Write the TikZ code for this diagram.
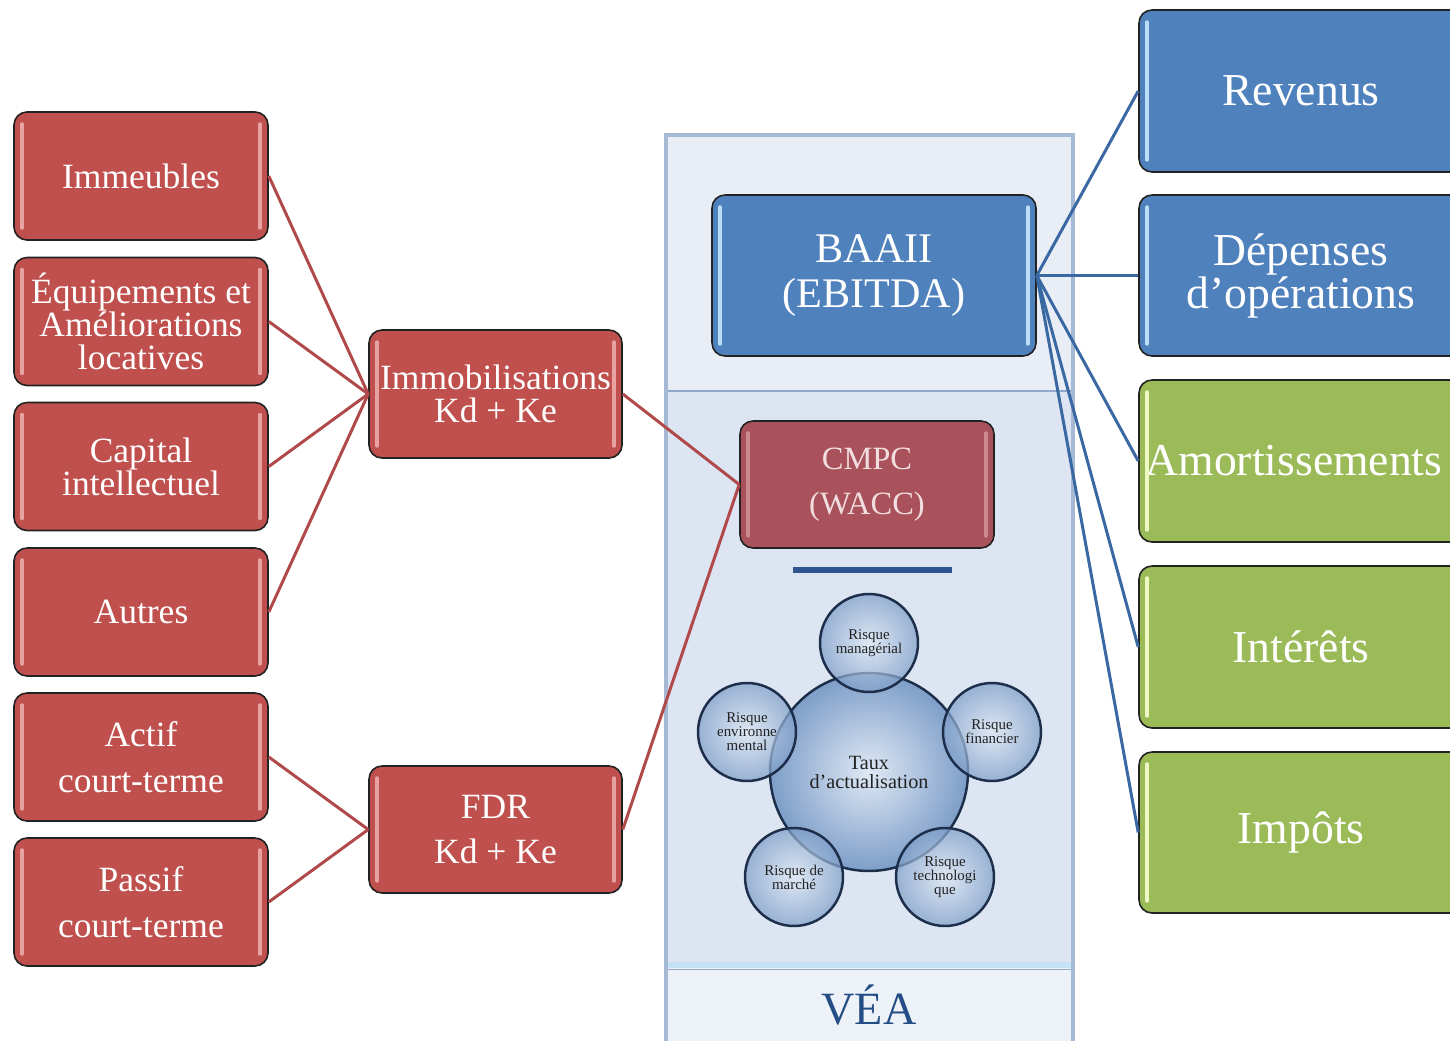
\documentclass[tikz,border=0pt]{standalone}
\usepackage{fontspec}
\setmainfont{Liberation Serif}
\definecolor{redfill}{HTML}{C0504D}
\definecolor{redbar}{HTML}{E6A3A1}
\definecolor{redline}{HTML}{B04A4A}
\definecolor{bluefill}{HTML}{4F81BD}
\definecolor{bluebar}{HTML}{BCDDF8}
\definecolor{blueline}{HTML}{3A68A2}
\definecolor{greenfill}{HTML}{9BBB59}
\definecolor{greenbar}{HTML}{EEF8C2}
\definecolor{cmpcfill}{HTML}{A9525B}
\definecolor{cmpcbar}{HTML}{CB8A90}
\definecolor{cmpctext}{HTML}{F2DEE0}
\definecolor{boxline}{HTML}{222222}
\definecolor{paneltop}{HTML}{E9EEF6}
\definecolor{panelmid}{HTML}{DCE5F1}
\definecolor{panelbot}{HTML}{EDF2F9}
\definecolor{panelline}{HTML}{8FA8CB}
\definecolor{panelborder}{HTML}{A6B9D4}
\definecolor{cyanbar}{HTML}{C3E2F6}
\definecolor{ulblue}{HTML}{2F5590}
\definecolor{veablue}{HTML}{244D86}
\definecolor{navy}{HTML}{1C2E4A}
\definecolor{bubin}{HTML}{DFE9F5}
\definecolor{bubout}{HTML}{7E9EC8}
\definecolor{darktext}{HTML}{222222}
\newcommand\fLeft{\fontsize{20.2}{18.8}\selectfont}
\newcommand\fLeftW{\fontsize{20.2}{26}\selectfont}
\newcommand\fRight{\fontsize{26}{24.5}\selectfont}
\newcommand\fBaa{\fontsize{24}{26}\selectfont}
\newcommand\fCm{\fontsize{18.5}{25.6}\selectfont}
\newcommand\mybox[9]{%
 \node[box,fill=#6,minimum width=#4*0.02cm,minimum height=#5*0.02cm,#8] (#1) at (#2,#3) {#9};
 \draw[hlbar,draw=#7] ([xshift=0.18cm,yshift=-0.26cm]#1.north west) -- ([xshift=0.18cm,yshift=0.26cm]#1.south west);
 \draw[hlbar,draw=#7] ([xshift=-0.18cm,yshift=-0.26cm]#1.north east) -- ([xshift=-0.18cm,yshift=0.26cm]#1.south east);}
\tikzset{
 box/.style={draw=boxline,line width=0.9pt,rounded corners=0.26cm,text=white,align=center,inner sep=0pt},
 hlbar/.style={line width=2.2pt,line cap=round},
 redln/.style={draw=redline,line width=1.7pt},
 blueln/.style={draw=blueline,line width=1.7pt},
 bubble/.style={circle,draw=navy,line width=1.4pt,inner color=bubin,outer color=bubout,inner sep=0pt,align=center},
 risk/.style={bubble,minimum size=1.96cm,text=darktext,font=\fontsize{8.5}{8}\selectfont,fill opacity=0.72,text opacity=1},
}
\begin{document}
\begin{tikzpicture}[x=0.02cm,y=-0.02cm]
\useasboundingbox (0,0) rectangle (1450,1041);
\clip (0,0) rectangle (1450,1041);
% central panel
\fill[panelmid] (666,135) rectangle (1073,1045);
\fill[paneltop] (666,135) rectangle (1073,391);
\fill[panelbot] (666,968) rectangle (1073,1045);
\draw[panelline,line width=1.2pt] (666,391) -- (1073,391);
\draw[cyanbar,line width=3pt] (668,965) -- (1071,965);
\draw[panelline,line width=0.8pt] (666,969.5) -- (1073,969.5);
\draw[panelborder,line width=2.4pt] (666,1045) -- (666,135) -- (1073,135) -- (1073,1045);
\node[font=\fontsize{26.3}{28}\selectfont,text=veablue] (vea) at (869,1005) {VÉA};
% underline
\coordinate (ul1) at (793,570);
\coordinate (ul2) at (952,570);
\draw[ulblue,line width=3.4pt] (ul1) -- (ul2);
% bubbles
\node[bubble,minimum size=3.96cm,text=darktext,font=\fontsize{11.5}{10.8}\selectfont] (taux) at (869,772) {Taux\\d’actualisation};
\node[risk] (r1) at (869,643) {Risque\\managérial};
\node[risk] (r2) at (992,732) {Risque\\financier};
\node[risk] (r3) at (945,877) {Risque\\technologi\\que};
\node[risk] (r4) at (794,877) {Risque de\\marché};
\node[risk] (r5) at (747,732) {Risque\\environne\\mental};
% left boxes
\mybox{imm}{141}{176}{254}{128}{redfill}{redbar}{font=\fLeft}{Immeubles}
\mybox{equ}{141}{321.5}{254}{128}{redfill}{redbar}{font=\fLeft}{Équipements et\\Améliorations\\locatives}
\mybox{cap}{141}{466.5}{254}{128}{redfill}{redbar}{font=\fLeft}{Capital\\intellectuel}
\mybox{aut}{141}{612}{254}{128}{redfill}{redbar}{font=\fLeft}{Autres}
\mybox{act}{141}{757}{254}{128}{redfill}{redbar}{font=\fLeftW}{Actif\\court-terme}
\mybox{pas}{141}{902}{254}{128}{redfill}{redbar}{font=\fLeftW}{Passif\\court-terme}
% middle boxes
\mybox{immo}{495.5}{394}{253}{128}{redfill}{redbar}{font=\fLeft}{Immobilisations\\Kd + Ke}
\mybox{fdr}{495.5}{829.5}{253}{127}{redfill}{redbar}{font=\fLeftW}{FDR\\Kd + Ke}
% central boxes
\mybox{cmpc}{867}{484.5}{254}{127}{cmpcfill}{cmpcbar}{font=\fCm,text=cmpctext}{CMPC\\(WACC)}
\mybox{baaii}{874}{275.5}{324}{161}{bluefill}{bluebar}{font=\fBaa}{BAAII\\(EBITDA)}
% right boxes
\mybox{rev}{1301}{91}{324}{162}{bluefill}{bluebar}{font=\fRight}{Revenus}
\mybox{dep}{1301}{275.5}{324}{161}{bluefill}{bluebar}{font=\fRight}{Dépenses\\d’opérations}
\mybox{amo}{1301}{461}{324}{162}{greenfill}{greenbar}{font=\fRight}{\hspace*{-8pt}Amortissements}
\mybox{int}{1301}{647}{324}{162}{greenfill}{greenbar}{font=\fRight}{Intérêts}
\mybox{imp}{1301}{832.5}{324}{161}{greenfill}{greenbar}{font=\fRight}{Impôts}
% connectors
\draw[redln] (imm.east) -- (immo.west);
\draw[redln] (equ.east) -- (immo.west);
\draw[redln] (cap.east) -- (immo.west);
\draw[redln] (aut.east) -- (immo.west);
\draw[redln] (act.east) -- (fdr.west);
\draw[redln] (pas.east) -- (fdr.west);
\draw[redln] (immo.east) -- (cmpc.west);
\draw[redln] (fdr.east) -- (cmpc.west);
\draw[blueln] (baaii.east) -- (rev.west);
\draw[blueln] (baaii.east) -- (dep.west);
\draw[blueln] (baaii.east) -- (amo.west);
\draw[blueln] (baaii.east) -- (int.west);
\draw[blueln] (baaii.east) -- (imp.west);
\end{tikzpicture}
\end{document}
